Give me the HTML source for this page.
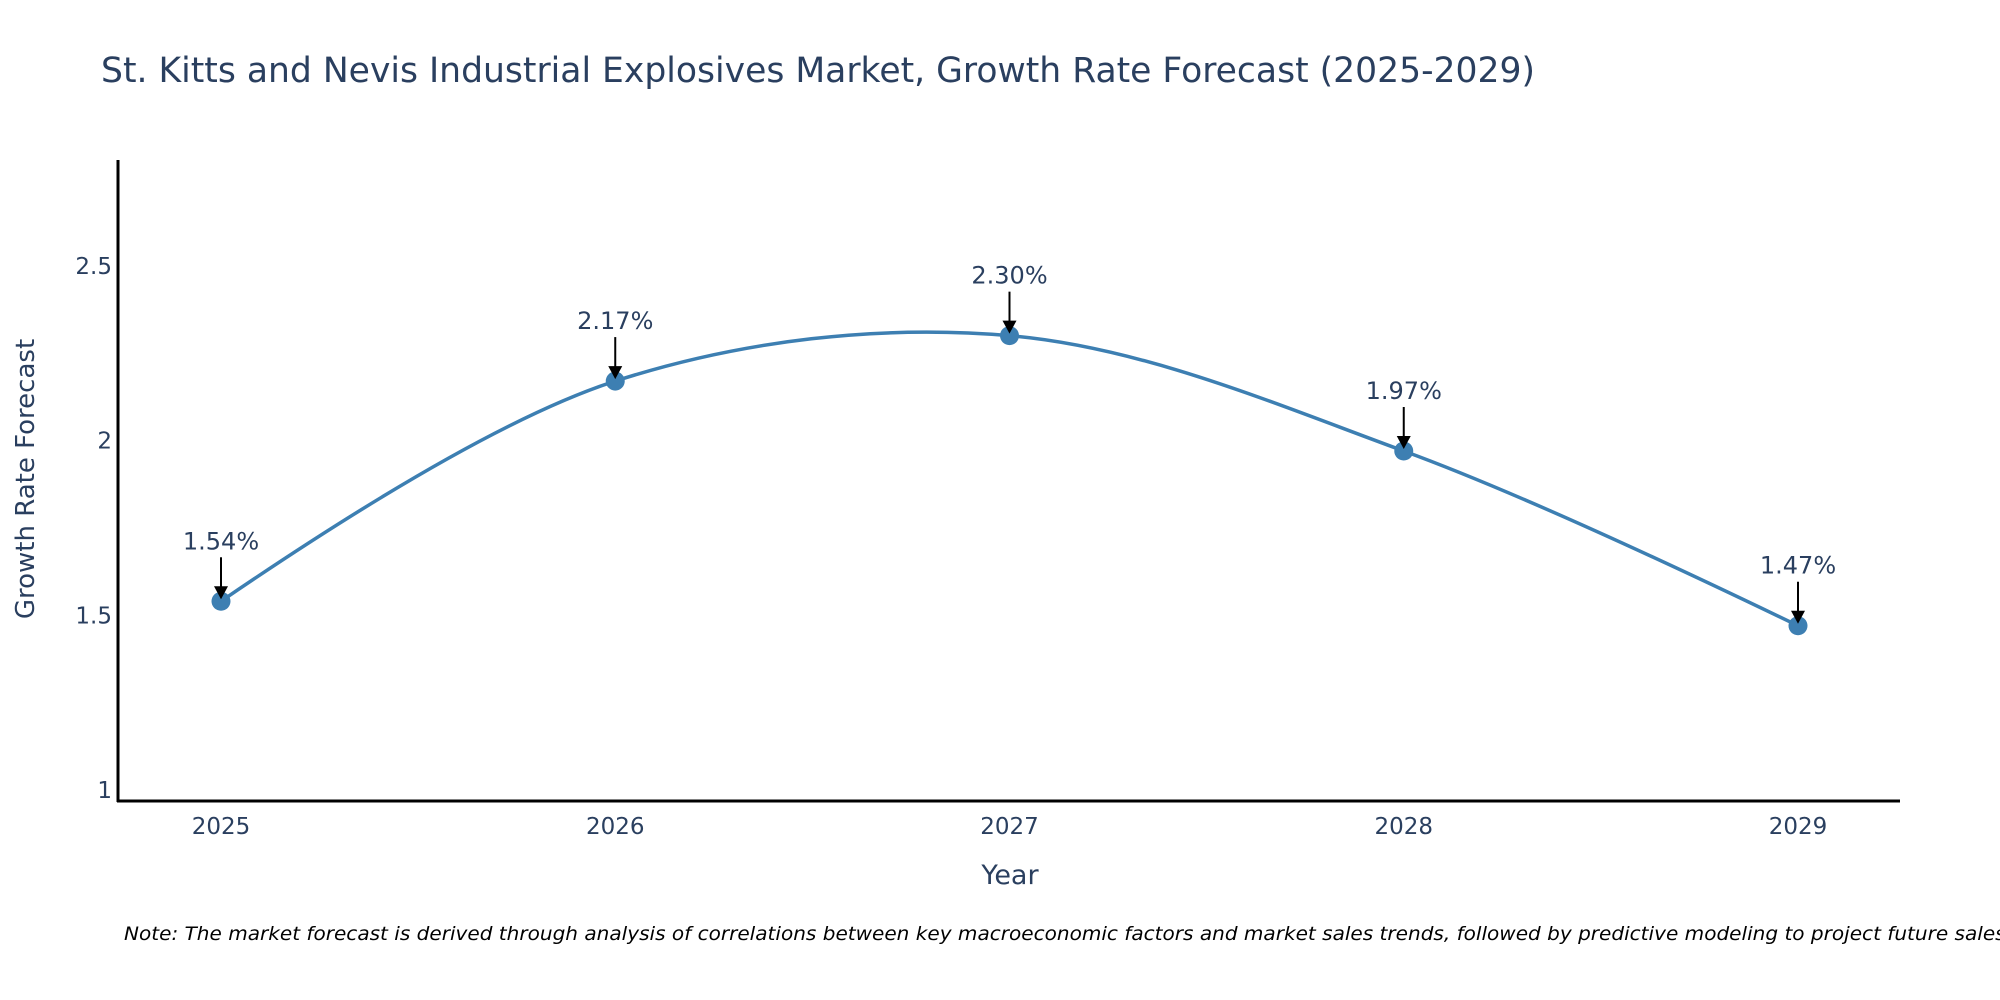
<!DOCTYPE html>
<html><head><meta charset="utf-8"><style>
html,body{margin:0;padding:0;background:#fff;}
svg{display:block;font-family:"DejaVu Sans","Liberation Sans",sans-serif;}
</style></head><body>
<svg id="chart" width="2000" height="1000" viewBox="0 0 2000 1000">
<text x="101" y="82" font-size="35" fill="#2a3f5f" textLength="1434" lengthAdjust="spacingAndGlyphs">St. Kitts and Nevis Industrial Explosives Market, Growth Rate Forecast (2025-2029)</text>
<g id="yticks"></g>
<g id="xticks"></g>
<line x1="118" y1="160" x2="118" y2="802" stroke="#000" stroke-width="3"/>
<line x1="117" y1="801" x2="1900" y2="801" stroke="#000" stroke-width="3"/>
<text x="0" y="0" transform="translate(34,479) rotate(-90)" text-anchor="middle" font-size="26" fill="#2a3f5f">Growth Rate Forecast</text>
<text x="1010" y="884" text-anchor="middle" font-size="27" fill="#2a3f5f">Year</text>
<path id="line" fill="none" stroke="#3d7fb2" stroke-width="3.5"/>
<g id="points"></g>
<g id="annots"></g>
<text x="124" y="940" font-size="19" font-style="italic" fill="#000" textLength="1888" lengthAdjust="spacingAndGlyphs">Note: The market forecast is derived through analysis of correlations between key macroeconomic factors and market sales trends, followed by predictive modeling to project future sales.</text>
</svg>
<script>
const years = [2025, 2026, 2027, 2028, 2029];
const growth = [1.54, 2.17, 2.30, 1.97, 1.47];
const labels = ["1.54%", "2.17%", "2.30%", "1.97%", "1.47%"];
const yTicks = [1, 1.5, 2, 2.5];
const yTickLabels = ["1", "1.5", "2", "2.5"];

const NS = "http://www.w3.org/2000/svg";
function xs(v){ return 221 + (v - 2025) * 394.25; }
function ys(v){ return 790 - (v - 1) * 349.5; }
function mk(tag, attrs, parent){ const e=document.createElementNS(NS,tag); for(const k in attrs) e.setAttribute(k,attrs[k]); parent.appendChild(e); return e; }

const yt=document.getElementById('yticks');
yTicks.forEach((t,i)=>{
  const e=mk('text',{x:112,y:ys(t)+8,'text-anchor':'end','font-size':23,fill:'#2a3f5f'},yt);
  
  
  e.textContent=yTickLabels[i];
});
const xt=document.getElementById('xticks');
years.forEach(y=>{
  const e=mk('text',{x:xs(y),y:834,'text-anchor':'middle','font-size':23,fill:'#2a3f5f'},xt);
  
  
  e.textContent=String(y);
});

const pts = years.map((y,i)=>[xs(y), ys(growth[i])]);
function tangent(p,t,n,s){
  const d1x=p[0]-t[0], d1y=p[1]-t[1], d2x=n[0]-t[0], d2y=n[1]-t[1];
  const d1a=Math.pow(d1x*d1x+d1y*d1y,0.25), d2a=Math.pow(d2x*d2x+d2y*d2y,0.25);
  const numx=(d2a*d2a*d1x-d1a*d1a*d2x)*s, numy=(d2a*d2a*d1y-d1a*d1a*d2y)*s;
  const den1=3*d2a*(d1a+d2a), den2=3*d1a*(d1a+d2a);
  return [[t[0]+numx/den1, t[1]+numy/den1],[t[0]-numx/den2, t[1]-numy/den2]];
}
const tg=[];
for(let i=1;i<pts.length-1;i++) tg.push(tangent(pts[i-1],pts[i],pts[i+1],1));
let d='M'+pts[0]+'Q'+tg[0][0]+' '+pts[1];
for(let i=2;i<pts.length-1;i++) d+='C'+tg[i-2][1]+' '+tg[i-1][0]+' '+pts[i];
d+='Q'+tg[pts.length-3][1]+' '+pts[pts.length-1];
document.getElementById('line').setAttribute('d', d);

const pg=document.getElementById('points'), ag=document.getElementById('annots');
pts.forEach((p,i)=>{
  const c=mk('circle',{cx:p[0],cy:p[1],r:9.5,fill:'#3d7fb2'},pg);
  
  
  const l=mk('line',{x1:p[0],y1:p[1]-44,x2:p[0],y2:p[1]-12,stroke:'#000','stroke-width':2},ag);
  
  
  const h=mk('polygon',{points:(p[0]-7)+','+(p[1]-15)+' '+(p[0]+7)+','+(p[1]-15)+' '+p[0]+','+(p[1]-2),fill:'#000'},ag);
  
  
  const t=mk('text',{x:p[0],y:p[1]-52,'text-anchor':'middle','font-size':24,fill:'#2a3f5f'},ag);
  
  
  t.textContent=labels[i];
});
</script>
</body></html>
